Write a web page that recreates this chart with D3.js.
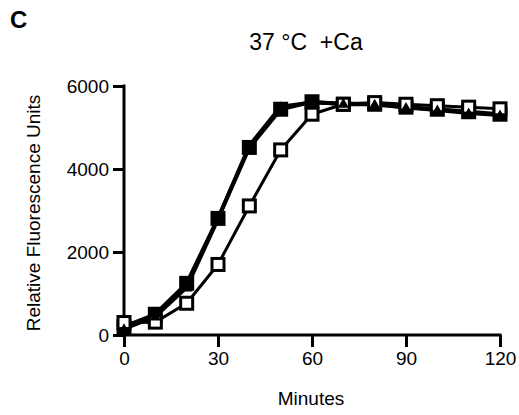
<!DOCTYPE html>
<html>
<head>
<meta charset="utf-8">
<script src="https://cdn.jsdelivr.net/npm/d3@7"></script>
<style>
body{margin:0;background:#fff}
text{font-family:"Liberation Sans",Arial,sans-serif;fill:#000}
</style>
</head>
<body>
<svg id="svg1" width="519" height="415"></svg>
<script>
var minutes = [0,10,20,30,40,50,60,70,80,90,100,110,120]
var filledSq = [200,500,1245,2810,4520,5440,5620,5560,5560,5490,5440,5380,5320]
var openSq = [300,310,765,1700,3110,4460,5320,5560,5600,5560,5525,5490,5450]
var triangles = [150,450,1150,2800,4560,5500,5600,5580,5560,5480,5420,5350,5300]
var xTicks = [0,30,60,90,120]
var yTicks = [0,2000,4000,6000]

var svg = d3.select("#svg1")
var x = d3.scaleLinear().domain([0,120]).range([124,500])
var y = d3.scaleLinear().domain([0,6000]).range([335,86])

// axes
var xa = svg.append("g").attr("transform","translate(0,335)")
    .call(d3.axisBottom(x).tickValues(xTicks).tickFormat(d3.format("d")).tickSize(12).tickPadding(5).tickSizeOuter(0))
var ya = svg.append("g").attr("transform","translate(124,0)")
    .call(d3.axisLeft(y).tickValues(yTicks).tickFormat(d3.format("d")).tickSize(11).tickPadding(4).tickSizeOuter(0))
svg.selectAll(".domain,.tick line").attr("stroke","#000").attr("stroke-width",3)
svg.selectAll(".tick text").style("font-size","19px").style("font-family","Liberation Sans, Arial, sans-serif")
xa.select(".domain").attr("d","M"+(x(0)-1.5)+",0H"+(x(120)+1.5))
ya.select(".domain").attr("d","M0,"+(y(0)+1.5)+"V"+(y(6000)-1.5))

function series(vals, lw){
    var line = d3.line().x(function(d,i){return x(minutes[i])}).y(function(d){return y(d)})
    svg.append("path").attr("d",line(vals)).attr("fill","none")
        .attr("stroke","#000").attr("stroke-width",lw).attr("stroke-linejoin","round")
}
series(filledSq,4)
series(triangles,4)
series(openSq,3)

var s = 15
svg.selectAll("rect.fs").data(filledSq).enter().append("rect").attr("class","fs")
    .attr("x",function(d,i){return x(minutes[i])-s/2})
    .attr("y",function(d){return y(d)-s/2})
    .attr("width",s).attr("height",s).attr("fill","#000")
svg.selectAll("rect.os").data(openSq).enter().append("rect").attr("class","os")
    .attr("x",function(d,i){return x(minutes[i])-s/2+1.5})
    .attr("y",function(d){return y(d)-s/2+1.5})
    .attr("width",s-3).attr("height",s-3).attr("fill","#fff")
    .attr("stroke","#000").attr("stroke-width",3)
var tri = d3.symbol().type(d3.symbolTriangle).size(55)
svg.selectAll("path.tr").data(triangles).enter().append("path").attr("class","tr")
    .attr("d",tri)
    .attr("transform",function(d,i){return "translate("+x(minutes[i])+","+(y(d)+1)+")"})
    .attr("fill","#000")

// labels
svg.append("text").attr("x",10).attr("y",28).style("font-size","24px").style("font-weight","bold").text("C")
svg.append("text").attr("x",306).attr("y",50).attr("text-anchor","middle").style("font-size","23px")
    .style("white-space","pre").text("37 °C  +Ca")
svg.append("text").attr("x",311).attr("y",405).attr("text-anchor","middle").style("font-size","19px").text("Minutes")
svg.append("text").attr("transform","translate(40,213) rotate(-90)").attr("text-anchor","middle")
    .style("font-size","19px").text("Relative Fluorescence Units")
</script>
</body>
</html>
